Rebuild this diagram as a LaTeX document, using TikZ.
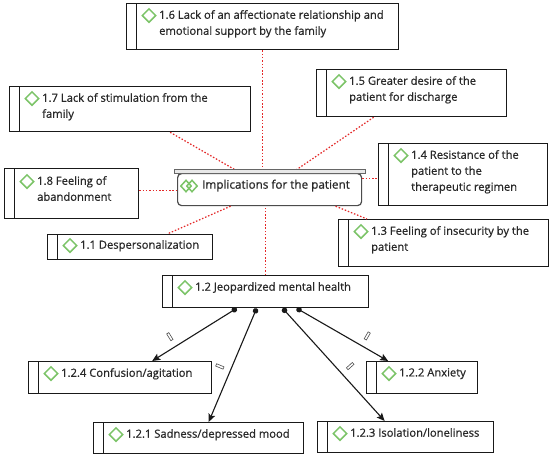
\documentclass[tikz,border=0pt]{standalone}
\usepackage{fontspec}
\setmainfont{Open Sans}[AutoFakeBold=0.7]
\usepackage{tikz}
\usetikzlibrary{shapes.geometric,arrows.meta,positioning,calc}
\definecolor{gemgreen}{RGB}{124,196,104}
\definecolor{linkred}{RGB}{228,40,40}
\definecolor{textgray}{RGB}{40,40,40}
\definecolor{boxline}{RGB}{25,25,25}
\definecolor{lidgray}{RGB}{232,232,232}

\begin{document}
\begin{tikzpicture}[x=1pt, y=-1pt,
    box/.style={draw=boxline, line width=1.3pt, fill=white, anchor=north west, inner sep=0pt,
        path picture={\draw[boxline, line width=1.3pt] ([xshift=10pt]path picture bounding box.north west)
            -- ([xshift=10pt]path picture bounding box.south west);}},
    txt/.style={anchor=north west, inner sep=0pt, align=left, text=textgray,
        font=\fontsize{11.2}{16}\selectfont\bfseries},
    gem/.style={diamond, draw=gemgreen, line width=1.5pt, minimum width=14pt, minimum height=14pt, inner sep=0pt},
    link/.style={draw=linkred, line width=1.2pt, dash pattern=on 1.5pt off 1.8pt},
    flow/.style={draw=boxline, line width=1.1pt, {Circle[length=5.5pt]}-{Stealth[length=8pt,width=7pt,inset=1.5pt]}},
    gapmark/.style={draw=black!70, line width=0.6pt, minimum width=2.5pt, minimum height=8pt, inner sep=0pt, sloped, above=7pt},
]
    \fill[white] (0,0) rectangle (550,456);
    \useasboundingbox (0,0) rectangle (550,456);

    % Centre: implications
    \node[draw=black!70, line width=1.2pt, fill=white, rounded corners=4pt, anchor=north west,
        minimum width=184pt, minimum height=32pt, inner sep=0pt] (imp) at (177,173) {};
    \node[txt, font=\fontsize{11.7}{16}\selectfont\bfseries] (impt) at ([shift={(25,6.5)}]imp.north west) {Implications for the patient};
    \node[gem, minimum width=11pt, minimum height=12pt] (impd1) at ([shift={(9,13)}]imp.north west) {};
    \node[gem, minimum width=11pt, minimum height=12pt] (impd2) at ([shift={(15,13)}]imp.north west) {};

    % Outer ring of causes
    \node[box, minimum width=272pt, minimum height=46pt] (c16) at (126,3) {};
    \node[txt] (c16t) at ([shift={(33,7)}]c16.north west) {1.6 Lack of an affectionate relationship and\\emotional support by the family};
    \node[gem] (c16d) at ([shift={(23,12.5)}]c16.north west) {};

    \node[box, minimum width=241pt, minimum height=45pt] (c17) at (9,86) {};
    \node[txt] (c17t) at ([shift={(33,7)}]c17.north west) {1.7 Lack of stimulation from the\\family};
    \node[gem] (c17d) at ([shift={(23,12.5)}]c17.north west) {};

    \node[box, minimum width=190pt, minimum height=47pt] (c15) at (316,69) {};
    \node[txt] (c15t) at ([shift={(33,7)}]c15.north west) {1.5 Greater desire of the\\patient for discharge};
    \node[gem] (c15d) at ([shift={(23,12.5)}]c15.north west) {};

    \node[box, minimum width=169pt, minimum height=62pt] (c14) at (378,143) {};
    \node[txt] (c14t) at ([shift={(33,7)}]c14.north west) {1.4 Resistance of the\\patient to the\\therapeutic regimen};
    \node[gem] (c14d) at ([shift={(23,12.5)}]c14.north west) {};

    \node[box, minimum width=134pt, minimum height=50pt] (c18) at (4,168) {};
    \node[txt] (c18t) at ([shift={(33,8)}]c18.north west) {1.8 Feeling of\\abandonment};
    \node[gem] (c18d) at ([shift={(23,13.5)}]c18.north west) {};

    \node[box, minimum width=165pt, minimum height=25pt] (c11) at (47,234) {};
    \node[txt] (c11t) at ([shift={(33,6)}]c11.north west) {1.1 Despersonalization};
    \node[gem] (c11d) at ([shift={(23,11.5)}]c11.north west) {};

    \node[box, minimum width=210pt, minimum height=47pt] (c13) at (338,219) {};
    \node[txt] (c13t) at ([shift={(33,7)}]c13.north west) {1.3 Feeling of insecurity by the\\patient};
    \node[gem] (c13d) at ([shift={(23,12.5)}]c13.north west) {};

    \node[box, minimum width=206pt, minimum height=32pt] (c12) at (162,275) {};
    \node[txt] (c12t) at ([shift={(33,7)}]c12.north west) {1.2 Jeopardized mental health};
    \node[gem] (c12d) at ([shift={(23,12.5)}]c12.north west) {};

    % Consequences of 1.2
    \node[box, minimum width=183pt, minimum height=32pt] (c124) at (28,361) {};
    \node[txt] (c124t) at ([shift={(33,7)}]c124.north west) {1.2.4 Confusion/agitation};
    \node[gem] (c124d) at ([shift={(23,12.5)}]c124.north west) {};

    \node[box, minimum width=111pt, minimum height=32pt] (c122) at (366,361) {};
    \node[txt] (c122t) at ([shift={(33,7)}]c122.north west) {1.2.2 Anxiety};
    \node[gem] (c122d) at ([shift={(23,12.5)}]c122.north west) {};

    \node[box, minimum width=210pt, minimum height=31pt] (c121) at (93,422) {};
    \node[txt] (c121t) at ([shift={(33,7)}]c121.north west) {1.2.1 Sadness/depressed mood};
    \node[gem] (c121d) at ([shift={(23,12.5)}]c121.north west) {};

    \node[box, minimum width=176pt, minimum height=31pt] (c123) at (317,421) {};
    \node[txt] (c123t) at ([shift={(33,7)}]c123.north west) {1.2.3 Isolation/loneliness};
    \node[gem] (c123d) at ([shift={(23,12.5)}]c123.north west) {};

    % Red dotted links to the centre
    \draw[link] (c16.south) -- (c16.south |- imp.north);
    \draw[link] ([xshift=-38pt]c15.south) -- ([xshift=22pt]imp.north);
    \draw[link] ([xshift=40pt]c17.south) -- ([xshift=-29pt]imp.north);
    \draw[link] ([yshift=-1pt]c18.east |- imp.west) -- ([yshift=-1pt]imp.west);
    \draw[link] ([yshift=11pt]imp.east) -- ([yshift=11pt]imp.east -| c14.west);
    \draw[link] ([xshift=66pt]imp.south) -- ([xshift=29pt]c13.north west);
    \draw[link] ([xshift=-39pt]imp.south) -- ([xshift=37pt]c11.north);
    \draw[link] (c12.north) -- (c12.north |- imp.south);
    % lid on top of the centre box
    \draw[black!60, line width=1pt, fill=lidgray] ([xshift=-3pt,yshift=4pt]imp.north west) rectangle ([xshift=3pt]imp.north east);

    % Arrows from 1.2
    \draw[flow] ([xshift=-29pt]c12.south) -- node[gapmark, pos=0.72] {} ([xshift=32pt]c124.north);
    \draw[flow] ([xshift=-9pt]c12.south) -- node[gapmark, pos=0.55] {} ([xshift=10pt]c121.north);
    \draw[flow] ([xshift=17pt]c12.south) -- node[gapmark, pos=0.58] {} ([xshift=-21pt]c123.north);
    \draw[flow] ([xshift=31pt]c12.south) -- node[gapmark, pos=0.71] {} ([xshift=-34pt]c122.north);
\end{tikzpicture}
\end{document}
